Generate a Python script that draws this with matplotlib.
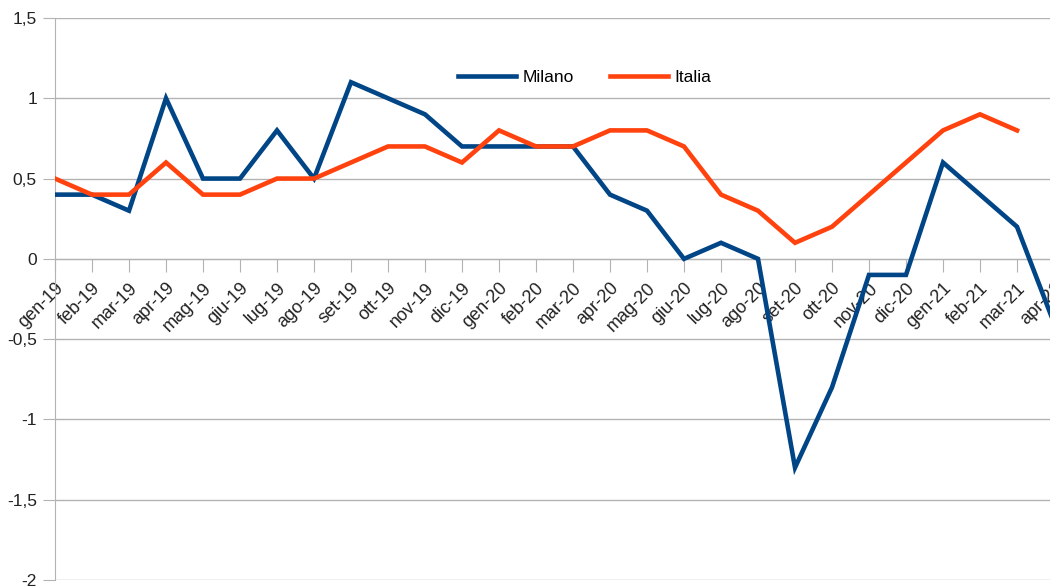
import matplotlib
matplotlib.use("Agg")
import matplotlib.pyplot as plt
from matplotlib.ticker import FuncFormatter, MultipleLocator

months = ["gen-19", "feb-19", "mar-19", "apr-19", "mag-19", "giu-19", "lug-19", "ago-19",
          "set-19", "ott-19", "nov-19", "dic-19", "gen-20", "feb-20", "mar-20", "apr-20",
          "mag-20", "giu-20", "lug-20", "ago-20", "set-20", "ott-20", "nov-20", "dic-20",
          "gen-21", "feb-21", "mar-21", "apr-21"]
milano = [0.4, 0.4, 0.3, 1.0, 0.5, 0.5, 0.8, 0.5, 1.1, 1.0, 0.9, 0.7, 0.7, 0.7, 0.7, 0.4,
          0.3, 0.0, 0.1, 0.0, -1.3, -0.8, -0.1, -0.1, 0.6, 0.4, 0.2, -0.4]
italia = [0.5, 0.4, 0.4, 0.6, 0.4, 0.4, 0.5, 0.5, 0.6, 0.7, 0.7, 0.6, 0.8, 0.7, 0.7, 0.8,
          0.8, 0.7, 0.4, 0.3, 0.1, 0.2, 0.4, 0.6, 0.8, 0.9, 0.8]

plt.rcParams['font.family'] = ['Liberation Sans', 'DejaVu Sans']

fig = plt.figure(figsize=(10.5, 5.88), dpi=100)
left = 55 / 1050
right_px = 55 + 37 * (len(months) - 1)
ax = fig.add_axes([left, 8 / 588, (right_px - 55) / 1050, (580 - 18) / 588])

x_m = list(range(len(milano)))
x_i = list(range(len(italia)))
ax.plot(x_m, milano, color="#004586", lw=3.3, label="Milano", solid_joinstyle='miter', zorder=3)
ax.plot(x_i, italia, color="#ff420e", lw=3.3, label="Italia", solid_joinstyle='miter', zorder=3)

ax.set_xlim(0, len(months) - 1)
ax.set_ylim(-2, 1.5)
ax.yaxis.set_major_locator(MultipleLocator(0.5))
ax.yaxis.set_major_formatter(FuncFormatter(lambda v, p: ("%g" % v).replace(".", ",")))
ax.grid(axis='y', color="#b3b3b3", lw=1)
ax.set_axisbelow(True)

for s in ['top', 'right']:
    ax.spines[s].set_visible(False)
ax.spines['left'].set_color("#b3b3b3")
ax.spines['bottom'].set_color("#b3b3b3")
ax.spines['bottom'].set_position(('data', 0))

ax.set_xticks(range(len(months)))
ax.set_xticklabels(months, rotation=45, ha='right', va='top', rotation_mode='anchor')
ax.tick_params(axis='x', length=9, color="#b3b3b3", labelsize=13, pad=6, direction='out')
ax.tick_params(axis='y', length=9, color="#b3b3b3", labelsize=12.5, pad=4)
for lab in ax.get_xticklabels() + ax.get_yticklabels():
    lab.set_color("#222222")

fig.legend(loc='center', bbox_to_anchor=(0.557, 0.869), frameon=False, ncol=2,
           handlelength=3.3, handletextpad=0.4, columnspacing=2.1, fontsize=12.5)

fig.savefig("out.png", dpi=100)
